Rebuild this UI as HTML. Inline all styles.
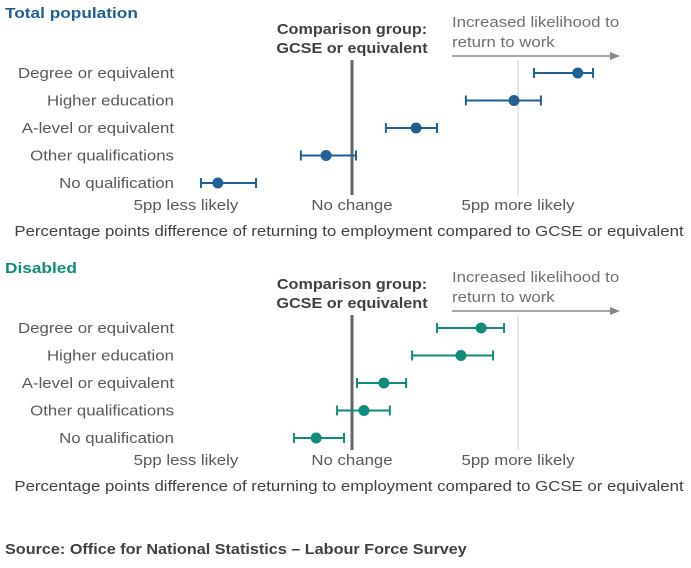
<!DOCTYPE html>
<html><head><meta charset="utf-8"><style>
body{margin:0;background:#fff;font-family:"Liberation Sans",sans-serif;}
svg text{font-family:"Liberation Sans",sans-serif;}
</style></head><body>
<svg id="c" width="691" height="563" viewBox="0 0 691 563"></svg>
<script>
const categories=["Degree or equivalent","Higher education","A-level or equivalent","Other qualifications","No qualification"];
const totalValues=[6.8,4.88,1.93,-0.78,-4.04];
const totalLow=[5.48,3.43,1.02,-1.54,-4.55];
const totalHigh=[7.26,5.69,2.56,0.12,-2.89];
const disValues=[3.89,3.28,0.96,0.36,-1.08];
const disLow=[2.56,1.81,0.15,-0.45,-1.75];
const disHigh=[4.58,4.25,1.63,1.14,-0.24];
const tickValues=[-5,0,5];
const tickLabels=["5pp less likely","No change","5pp more likely"];
const svg=document.getElementById('c');const NS="http://www.w3.org/2000/svg";
const X=v=>352+v*33.2;
function el(t,a,txt,name,sc){const e=document.createElementNS(NS,t);for(const k in a)e.setAttribute(k,a[k]);if(txt!==undefined)e.textContent=txt;


svg.appendChild(e);
if(t==='text'){const w=e.getComputedTextLength();e.setAttribute('textLength',w*(sc||(a['font-weight']?1.08:1.12)));e.setAttribute('lengthAdjust','spacingAndGlyphs');}
return e;}
function panel(y0,title,color,vals,lo,hi,key){
 el('text',{x:5,y:y0+18,'font-size':15,'font-weight':'bold',fill:color},title,key+'-title',1.15);
 el('line',{x1:X(5),x2:X(5),y1:y0+60,y2:y0+195,stroke:'#ccc','stroke-width':1},undefined,key+'-gridline');
 el('line',{x1:X(0),x2:X(0),y1:y0+60,y2:y0+195,stroke:'#666','stroke-width':3},undefined,key+'-zero-line');
 el('text',{x:352,y:y0+34,'font-size':15,'font-weight':'bold',fill:'#414042','text-anchor':'middle'},'Comparison group:',key+'-comparison-label');
 el('text',{x:352,y:y0+53,'font-size':15,'font-weight':'bold',fill:'#414042','text-anchor':'middle'},'GCSE or equivalent',key+'-comparison-label-2');
 el('text',{x:452,y:y0+27,'font-size':15,fill:'#707070'},'Increased likelihood to',key+'-arrow-label');
 el('text',{x:452,y:y0+47,'font-size':15,fill:'#707070'},'return to work',key+'-arrow-label-2');
 el('line',{x1:452,x2:612,y1:y0+56,y2:y0+56,stroke:'#888','stroke-width':1.5},undefined,key+'-arrow-line');
 el('polygon',{points:`620,${y0+56} 610,${y0+52} 610,${y0+60}`,fill:'#888'},undefined,key+'-arrow-head');
 categories.forEach((c,i)=>{const y=y0+73+i*27.5;
  el('text',{x:174,y:y+5,'font-size':15,fill:'#595959','text-anchor':'end'},c,key+'-category-label');
  el('line',{x1:X(lo[i]),x2:X(hi[i]),y1:y,y2:y,stroke:color,'stroke-width':2},undefined,key+'-ci-line');
  el('line',{x1:X(lo[i]),x2:X(lo[i]),y1:y-5,y2:y+5,stroke:color,'stroke-width':2},undefined,key+'-ci-cap-low');
  el('line',{x1:X(hi[i]),x2:X(hi[i]),y1:y-5,y2:y+5,stroke:color,'stroke-width':2},undefined,key+'-ci-cap-high');
  el('circle',{cx:X(vals[i]),cy:y,r:5.5,fill:color},undefined,key+'-point');
 });
 tickValues.forEach((v,i)=>el('text',{x:X(v),y:y0+210,'font-size':15,fill:'#595959','text-anchor':'middle'},tickLabels[i],key+'-tick-label'));
 el('text',{x:349,y:y0+236,'font-size':15,fill:'#414042','text-anchor':'middle'},'Percentage points difference of returning to employment compared to GCSE or equivalent',key+'-x-axis-title');
}
panel(0,'Total population','#206095',totalValues,totalLow,totalHigh,'total');
panel(255,'Disabled','#118c7b',disValues,disLow,disHigh,'disabled');
el('text',{x:5,y:554,'font-size':15,'font-weight':'bold',fill:'#414042'},'Source: Office for National Statistics – Labour Force Survey','source-note');
</script>
</body></html>
